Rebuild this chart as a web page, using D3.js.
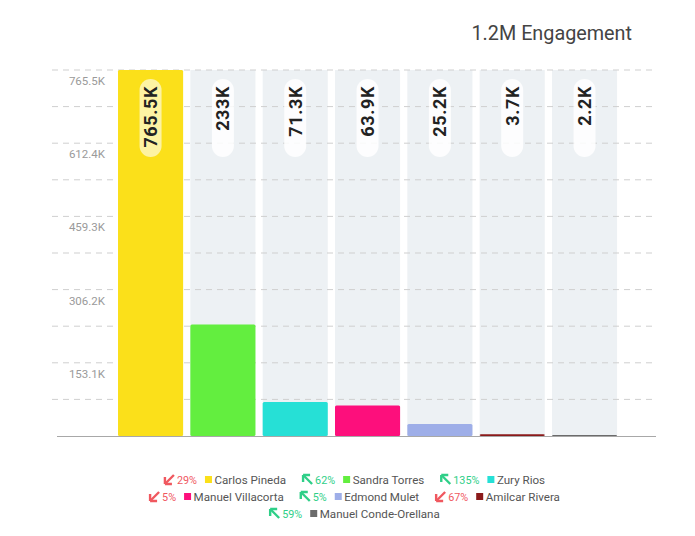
<!DOCTYPE html>
<html><head><meta charset="utf-8">
<script src="https://cdn.jsdelivr.net/npm/d3@7"></script>
<style>body{margin:0;background:#fff;} svg{display:block;font-family:Roboto,"Noto Sans",sans-serif;}</style>
</head><body>
<script>
const candidates = ["Carlos Pineda","Sandra Torres","Zury Rios","Manuel Villacorta","Edmond Mulet","Amilcar Rivera","Manuel Conde-Orellana"];
const values = [765500, 233000, 71300, 63900, 25200, 3700, 2200];
const valueLabels = ["765.5K","233K","71.3K","63.9K","25.2K","3.7K","2.2K"];
const changes = [-29, 62, 135, -5, 5, -67, 59];
const colors = ["#fbe01a","#63ee3f","#26e0d6","#fd0f7c","#9eaee8","#8b1a1a","#6b6b6b"];
const gridValues = [0,76550,153100,229650,306200,382750,459300,535850,612400,688950,765500];
const tickValues = [153100,306200,459300,612400,765500];
const tickLabels = ["153.1K","306.2K","459.3K","612.4K","765.5K"];
const title = "1.2M Engagement";

const W = 695, H = 536;
const svg = d3.select("body").append("svg").attr("width", W).attr("height", H);

const x = d3.scaleBand().domain(candidates).range([114.4, 620.7]).paddingInner(0.1).paddingOuter(0.05);
const y = d3.scaleLinear().domain([0, 765500]).range([436, 70]);

svg.append("text").attr("x", 632).attr("y", 40).attr("text-anchor","end")
  .attr("font-size", 19.8).attr("fill","#444").text(title);

// background columns
svg.append("g").selectAll("rect").data(candidates).join("rect")
  .attr("x", d => x(d)).attr("width", x.bandwidth())
  .attr("y", y(765500)).attr("height", y(0) - y(765500))
  .attr("fill", "#edf1f4");

// gridlines
svg.append("g").selectAll("line").data(gridValues.slice(1)).join("line")
  .attr("x1", 52).attr("x2", 656).attr("y1", d => y(d)).attr("y2", d => y(d))
  .attr("stroke", "#cfcfcf").attr("stroke-width", 1).attr("stroke-dasharray", "6,5");

// tick labels
svg.append("g").selectAll("text").data(tickValues).join("text")
  .attr("x", 105).attr("y", d => y(d) + 15).attr("text-anchor","end")
  .attr("font-size", 11.5).attr("fill","#9a9a9a")
  .text((d,i) => tickLabels[i]);

// bars
svg.append("g").selectAll("rect").data(values).join("rect")
  .attr("x", (d,i) => x(candidates[i])).attr("width", x.bandwidth())
  .attr("y", d => y(d)).attr("height", d => Math.max(1, y(0) - y(d)))
  .attr("rx", 1.5)
  .attr("fill", (d,i) => colors[i]);

// baseline
svg.append("line").attr("x1", 57).attr("x2", 656).attr("y1", y(0)+0.5).attr("y2", y(0)+0.5)
  .attr("stroke","#a8a8a8").attr("stroke-width",1.2);

// value labels with pills
const lab = svg.append("g").selectAll("g").data(values).join("g")
  .attr("transform", (d,i) => `translate(${x(candidates[i]) + x.bandwidth()/2},0)`);
lab.append("rect").attr("x", -11).attr("width", 22).attr("y", 79).attr("height", 78).attr("rx", 11)
  .attr("fill", "#fff").attr("fill-opacity", (d,i) => i === 0 ? 0.6 : 0.85);
lab.append("text").attr("transform", "translate(6.5,86) rotate(-90)")
  .attr("text-anchor","end").attr("font-size", 18).attr("font-weight", 700)
  .attr("letter-spacing", 0.6).attr("fill", "#222")
  .text((d,i) => valueLabels[i]);

// legend
const rows = [[0,1,2],[3,4,5],[6]];
const rowY = [484, 501, 518];
const legend = svg.append("g");
const gapItems = 17;
rows.forEach((row, r) => {
  const rg = legend.append("g");
  let cx = 0;
  row.forEach((idx, k) => {
    const ch = changes[idx];
    const up = ch >= 0;
    const col = up ? "#2fcf88" : "#f0585f";
    const g = rg.append("g").attr("transform", `translate(${cx},0)`);
    // arrow
    const a = g.append("g").attr("transform", "translate(0,-4)");
    if (up) {
      a.append("path").attr("d","M9,4 L0.5,-4.5").attr("stroke", col).attr("stroke-width", 2.4).attr("fill","none");
      a.append("path").attr("d","M0,-5 L7,-5 M0,-5 L0,2").attr("stroke", col).attr("stroke-width", 2.4).attr("fill","none");
    } else {
      a.append("path").attr("d","M9,-5 L0.5,3.5").attr("stroke", col).attr("stroke-width", 2.4).attr("fill","none");
      a.append("path").attr("d","M0,4 L7,4 M0,4 L0,-3").attr("stroke", col).attr("stroke-width", 2.4).attr("fill","none");
    }
    const pt = g.append("text").attr("x", 12).attr("y", 0).attr("font-size", 10.8).attr("fill", col)
      .text(Math.abs(ch) + "%");
    let px = 12 + pt.node().getComputedTextLength() + 8;
    g.append("rect").attr("x", px).attr("y", -8).attr("width", 7).attr("height", 7).attr("fill", colors[idx]);
    const nt = g.append("text").attr("x", px + 9.5).attr("y", 0).attr("font-size", 11.6).attr("fill", "#555")
      .text(candidates[idx]);
    const w = px + 9.5 + nt.node().getComputedTextLength();
    cx += w + gapItems;
  });
  const total = cx - gapItems;
  rg.attr("transform", `translate(${355 - total/2},${rowY[r]})`);
});
</script>
</body></html>
